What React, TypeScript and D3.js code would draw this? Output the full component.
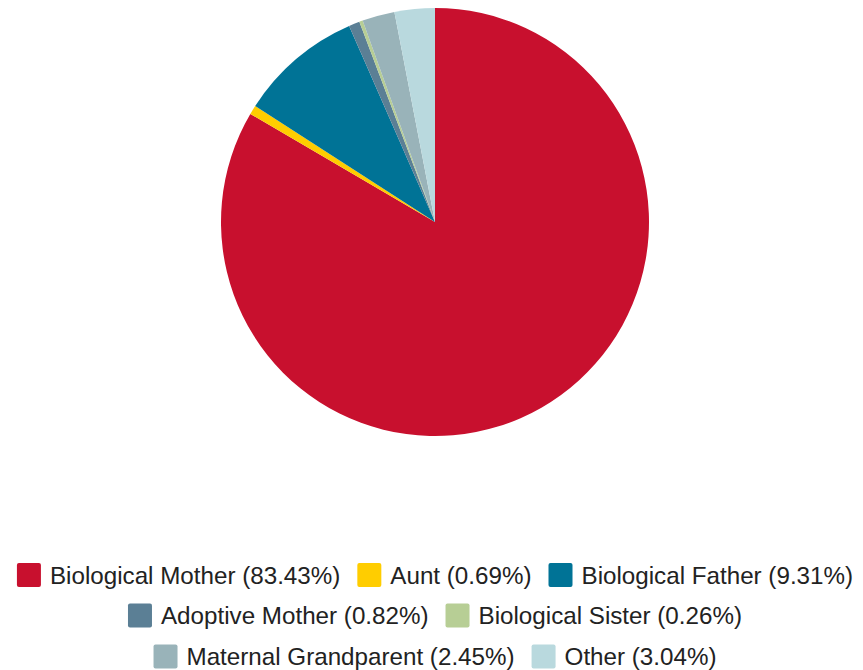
import React, { useEffect, useRef } from "react";
import * as d3 from "d3";

const categories = ["Biological Mother", "Aunt", "Biological Father", "Adoptive Mother", "Biological Sister", "Maternal Grandparent", "Other"];
const values = [83.43, 0.69, 9.31, 0.82, 0.26, 2.45, 3.04];
const colors = ["#C8102E", "#FFCD00", "#007396", "#5B7F95", "#B7CE95", "#99B3B9", "#B9D9DE"];
const legendRows = [[0, 1, 2], [3, 4], [5, 6]];

const W = 863, H = 670;

export default function App() {
  const ref = useRef<SVGSVGElement>(null);
  useEffect(() => {
    const svg = d3.select(ref.current);
    svg.selectAll("*").remove();
    const cx = 435, cy = 222, r = 214;
    const data = categories.map((c, i) => ({ c, v: values[i], i }));
    const pie = d3.pie<any>().value((d) => d.v).sort(null).startAngle(0).endAngle(2 * Math.PI);
    const arc = d3.arc<any>().innerRadius(0).outerRadius(r);
    const g = svg.append("g").attr("transform", `translate(${cx},${cy})`);
    g.selectAll("path").data(pie(data)).enter().append("path")
      .attr("d", arc).attr("fill", (d: any) => colors[d.data.i]).attr("stroke", "none");

    const sw = 24, gapText = 9, gapItem = 17;
    const rowY = [575, 615.5, 656.5];
    legendRows.forEach((row, ri) => {
      const lg = svg.append("g");
      let x = 0;
      row.forEach((i) => {
        lg.append("rect").attr("x", x).attr("y", rowY[ri] - sw / 2).attr("width", sw).attr("height", sw)
          .attr("rx", 2).attr("fill", colors[i]);
        const t = lg.append("text").attr("x", x + sw + gapText).attr("y", rowY[ri] + 8.5)
          .attr("font-family", "'Liberation Sans', Arial, sans-serif").attr("font-size", 24.2).attr("fill", "#222")
          .text(`${categories[i]} (${values[i].toFixed(2)}%)`);
        const tw = (t.node() as SVGTextElement).getComputedTextLength();
        x += sw + gapText + tw + gapItem;
      });
      const total = x - gapItem;
      lg.attr("transform", `translate(${cx - total / 2},0)`);
    });
  }, []);
  return (
    <svg ref={ref} width={W} height={H} style={{ display: "block", position: "absolute", left: 0, top: 0 }} />
  );
}
